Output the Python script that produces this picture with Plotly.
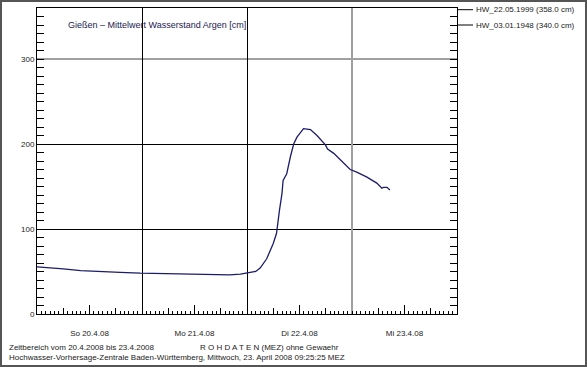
import plotly.graph_objects as go

# ---- data ----
times = [
    "2008-04-20 00:00", "2008-04-20 03:00", "2008-04-20 06:00", "2008-04-20 10:00",
    "2008-04-20 14:00", "2008-04-20 19:00", "2008-04-20 23:36", "2008-04-21 04:00",
    "2008-04-21 09:30", "2008-04-21 13:00", "2008-04-21 17:00", "2008-04-21 20:00",
    "2008-04-21 22:30", "2008-04-22 00:45", "2008-04-22 02:00", "2008-04-22 03:00",
    "2008-04-22 04:30", "2008-04-22 06:00", "2008-04-22 06:45", "2008-04-22 07:25",
    "2008-04-22 08:00", "2008-04-22 08:15", "2008-04-22 09:05", "2008-04-22 09:55",
    "2008-04-22 10:40", "2008-04-22 11:25", "2008-04-22 12:55", "2008-04-22 14:30",
    "2008-04-22 16:00", "2008-04-22 17:55", "2008-04-22 18:25", "2008-04-22 19:50",
    "2008-04-22 21:20", "2008-04-22 23:35", "2008-04-23 01:05", "2008-04-23 03:25",
    "2008-04-23 05:40", "2008-04-23 06:50", "2008-04-23 07:10", "2008-04-23 08:00",
    "2008-04-23 08:40",
]
water_level = [
    55.5, 54.5, 53, 51,
    50.5, 49, 48, 47.5,
    47, 46.5, 45.5, 46,
    47, 48.5, 50, 54,
    65, 83, 95, 122,
    142, 157, 165, 185,
    200, 208, 218, 217,
    210, 199, 194, 189,
    181, 170, 167, 161,
    154, 148, 149, 149,
    146,
]

day_label_pos = ["2008-04-20 12:00", "2008-04-21 12:00", "2008-04-22 12:00", "2008-04-23 12:00"]
day_labels = ["So 20.4.08", "Mo 21.4.08", "Di 22.4.08", "Mi 23.4.08"]
six_hour_ticks = ["2008-04-20 06:00", "2008-04-20 18:00", "2008-04-21 06:00", "2008-04-21 18:00",
                  "2008-04-22 06:00", "2008-04-22 18:00", "2008-04-23 06:00", "2008-04-23 18:00"]
day_grid_dark = ["2008-04-21", "2008-04-22"]
day_grid_light = ["2008-04-23"]
y_ticks = [0, 100, 200, 300]
y_grid_dark = [100, 200]
y_grid_light = [300]

hw_levels = [358.0, 340.0]
hw_labels = ["HW_22.05.1999 (358.0 cm)", "HW_03.01.1948 (340.0 cm)"]

title_text = "Gießen – Mittelwert Wasserstand Argen [cm]"
footer1a = "Zeitbereich vom 20.4.2008 bis 23.4.2008"
footer1b = "R O H D A T E N (MEZ) ohne Gewaehr"
footer2 = "Hochwasser-Vorhersage-Zentrale Baden-Württemberg, Mittwoch, 23. April 2008 09:25:25 MEZ"

# ---- geometry ----
W, H = 587, 367
L, R, T, B = 37, 130, 8, 53
PW, PH = W - L - R, H - T - B
def px(x):
    return (x - L) / PW
def py(y):
    return (H - B - y) / PH

FONT = "Liberation Sans, Arial, sans-serif"
xrange_ = ["2008-04-20 00:00", "2008-04-24 00:00"]

fig = go.Figure()
# empty helper traces so that the overlay axes (extra ticks / gridlines) get drawn
for xa, ya in [("x2", "y"), ("x3", "y"), ("x4", "y"), ("x", "y2"), ("x", "y3")]:
    fig.add_trace(go.Scatter(x=[None], y=[None], xaxis=xa, yaxis=ya, mode="lines",
                             showlegend=False, hoverinfo="skip"))
fig.add_trace(go.Scatter(x=times, y=water_level, mode="lines",
                         line=dict(color="#1c1c6a", width=1.3), showlegend=False,
                         hoverinfo="x+y"))

common_overlay_x = dict(type="date", range=xrange_, overlaying="x", anchor="y",
                        showline=False, zeroline=False, showticklabels=False)
common_overlay_y = dict(range=[0, 360], overlaying="y", anchor="x",
                        showline=False, zeroline=False, showticklabels=False, ticks="")

fig.update_layout(
    width=W, height=H,
    margin=dict(l=L, r=R, t=T, b=B, pad=0),
    paper_bgcolor="white", plot_bgcolor="white",
    font=dict(family=FONT, size=8, color="#222"),
    xaxis=dict(type="date", range=xrange_, showline=True, linecolor="black", linewidth=1,
               mirror=True, showgrid=False, zeroline=False,
               tickmode="array", tickvals=day_label_pos, ticktext=day_labels,
               ticks="inside", ticklen=9, tickcolor="black", tickwidth=1,
               ticklabelstandoff=11,
               tickfont=dict(family=FONT, size=8, color="#222"),
               minor=dict(dtick=3600000, tick0="2008-04-20", ticks="inside", ticklen=3,
                          tickcolor="black", tickwidth=1, showgrid=False)),
    xaxis2=dict(common_overlay_x, tickmode="array", tickvals=six_hour_ticks,
                ticks="inside", ticklen=6, tickcolor="black", showgrid=False),
    xaxis3=dict(common_overlay_x, tickmode="array", tickvals=day_grid_dark, ticks="",
                showgrid=True, gridcolor="black", gridwidth=1),
    xaxis4=dict(common_overlay_x, tickmode="array", tickvals=day_grid_light, ticks="",
                showgrid=True, gridcolor="#a0a0a0", gridwidth=2),
    yaxis=dict(range=[0, 360], showline=True, linecolor="black", linewidth=1, mirror="ticks",
               showgrid=False, zeroline=False, tickmode="array", tickvals=y_ticks,
               ticks="inside", ticklen=7, tickcolor="black", tickwidth=1,
               tickfont=dict(family=FONT, size=8, color="#222"),
               minor=dict(dtick=10, tick0=0, ticks="inside", ticklen=7,
                          tickcolor="black", tickwidth=1, showgrid=False)),
    yaxis2=dict(common_overlay_y, tickmode="array", tickvals=y_grid_dark,
                showgrid=True, gridcolor="black", gridwidth=1),
    yaxis3=dict(common_overlay_y, tickmode="array", tickvals=y_grid_light,
                showgrid=True, gridcolor="#a0a0a0", gridwidth=2),
)

shapes = []
annotations = []
for lvl, lab in zip(hw_levels, hw_labels):
    shapes.append(dict(type="line", xref="paper", yref="y", x0=1, x1=px(473), y0=lvl, y1=lvl,
                       line=dict(color="black", width=1)))
    annotations.append(dict(xref="paper", yref="y", x=px(474), y=lvl, text=lab, showarrow=False,
                            xanchor="left", yanchor="middle",
                            font=dict(family=FONT, size=8, color="#222")))

# outer image frame
shapes.append(dict(type="rect", xref="paper", yref="paper",
                   x0=px(1), x1=px(586), y0=py(366), y1=py(1),
                   line=dict(color="#555", width=2), fillcolor="rgba(0,0,0,0)"))

annotations.append(dict(xref="paper", yref="paper", x=px(66), y=py(25), text=title_text,
                        showarrow=False, xanchor="left", yanchor="middle",
                        font=dict(family=FONT, size=9, color="#1a1a50")))
annotations.append(dict(xref="paper", yref="paper", x=px(7), y=py(347), text=footer1a,
                        showarrow=False, xanchor="left", yanchor="middle",
                        font=dict(family=FONT, size=8, color="#222")))
annotations.append(dict(xref="paper", yref="paper", x=px(198), y=py(347), text=footer1b,
                        showarrow=False, xanchor="left", yanchor="middle",
                        font=dict(family=FONT, size=8, color="#222")))
annotations.append(dict(xref="paper", yref="paper", x=px(7), y=py(357.5), text=footer2,
                        showarrow=False, xanchor="left", yanchor="middle",
                        font=dict(family=FONT, size=8, color="#222")))

fig.update_layout(shapes=shapes, annotations=annotations)
fig.write_html("out.html", config={"displayModeBar": False},
               post_script="document.body.style.margin='0';document.body.style.padding='0';")
